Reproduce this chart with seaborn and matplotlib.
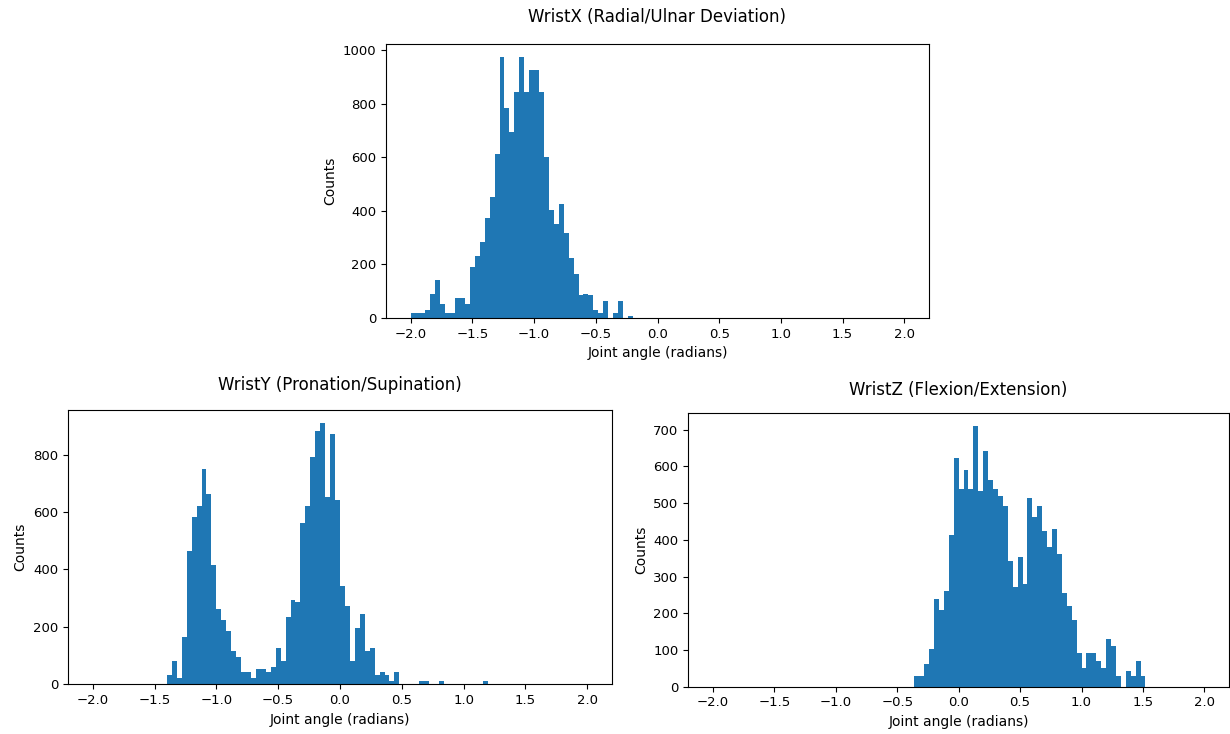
import numpy as np
import pandas as pd
import matplotlib
matplotlib.use("Agg")
import matplotlib.pyplot as plt
import seaborn as sns

# ---- data: counts per bin (100 bins of width 0.04 spanning -2..2) ----
n_bins = 100
bin_range = (-2.0, 2.0)

wrist_x_counts = [
    20, 20, 20, 31, 90, 143, 52, 20, 20, 74,
    74, 52, 191, 233, 282, 372, 453, 612, 974, 783,
    695, 845, 974, 845, 924, 924, 845, 602, 403, 351,
    426, 316, 223, 165, 84, 90, 86, 31, 20, 62,
    0, 20, 62, 0, 9, 0, 0, 0, 0, 0,
    0, 0, 0, 0, 0, 0, 0, 0, 0, 0,
    0, 0, 0, 0, 0, 0, 0, 0, 0, 0,
    0, 0, 0, 0, 0, 0, 0, 0, 0, 0,
    0, 0, 0, 0, 0, 0, 0, 0, 0, 0,
    0, 0, 0, 0, 0, 0, 0, 0, 0, 0,
]

wrist_y_counts = [
    0, 0, 0, 0, 0, 0, 0, 0, 0, 0,
    0, 0, 0, 0, 0, 31, 81, 22, 166, 463,
    582, 622, 751, 662, 414, 264, 225, 186, 117, 96,
    42, 42, 22, 52, 52, 42, 61, 125, 81, 235,
    295, 286, 563, 622, 791, 882, 910, 652, 871, 643,
    344, 273, 81, 195, 244, 117, 125, 31, 42, 31,
    12, 42, 0, 0, 0, 0, 12, 12, 0, 0,
    12, 0, 0, 0, 0, 0, 0, 0, 0, 12,
    0, 0, 0, 0, 0, 0, 0, 0, 0, 0,
    0, 0, 0, 0, 0, 0, 0, 0, 0, 0,
]

wrist_z_counts = [
    0, 0, 0, 0, 0, 0, 0, 0, 0, 0,
    0, 0, 0, 0, 0, 0, 0, 0, 0, 0,
    0, 0, 0, 0, 0, 0, 0, 0, 0, 0,
    0, 0, 0, 0, 0, 0, 0, 0, 0, 0,
    0, 30, 30, 62, 102, 240, 210, 260, 412, 622,
    540, 591, 540, 711, 534, 642, 564, 540, 519, 493,
    342, 272, 354, 281, 513, 462, 493, 424, 381, 431,
    362, 254, 221, 182, 92, 51, 92, 92, 70, 51,
    131, 112, 30, 0, 43, 30, 70, 30, 0, 0,
    0, 0, 0, 0, 0, 0, 0, 0, 0, 0,
]

titles = [
    "WristX (Radial/Ulnar Deviation)",
    "WristY (Pronation/Supination)",
    "WristZ (Flexion/Extension)",
]
x_label = "Joint angle (radians)"
y_label = "Counts"
x_ticks = [-2.0, -1.5, -1.0, -0.5, 0.0, 0.5, 1.0, 1.5, 2.0]

bin_edges = np.linspace(bin_range[0], bin_range[1], n_bins + 1)
bin_centers = (bin_edges[:-1] + bin_edges[1:]) / 2

fig = plt.figure(figsize=(12.3, 7.34), dpi=100)
W, H = 1230, 734

def px_axes(left, top, right, bottom):
    return fig.add_axes([left / W, 1 - bottom / H, (right - left) / W, (bottom - top) / H])

ax_top = px_axes(386, 44, 929, 318)
ax_bl = px_axes(68, 410, 612, 684.3)
ax_br = px_axes(688.3, 412.7, 1229, 686.7)

title_pads = [15.5, 14.5, 13]

for ax, counts, title, pad in zip([ax_top, ax_bl, ax_br],
                                  [wrist_x_counts, wrist_y_counts, wrist_z_counts],
                                  titles, title_pads):
    df = pd.DataFrame({"angle": bin_centers, "count": np.asarray(counts, dtype=float)})
    sns.histplot(data=df, x="angle", weights="count", bins=n_bins, binrange=bin_range,
                 color="#1f77b4", alpha=1.0, linewidth=0, ax=ax)
    ax.set_title(title, fontsize=12, pad=pad)
    ax.set_xlabel(x_label, fontsize=10)
    ax.set_ylabel(y_label, fontsize=10)
    ax.tick_params(labelsize=9.5)
    ax.set_xticks(x_ticks)

fig.savefig("out.png", dpi=100)
